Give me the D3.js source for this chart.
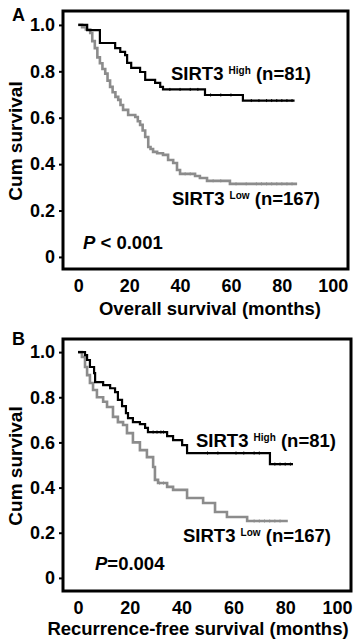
<!DOCTYPE html>
<html>
<head>
<meta charset="utf-8">
<script src="https://cdn.jsdelivr.net/npm/d3@7"></script>
<style>
  body { margin: 0; background: #fff; }
  svg { display: block; font-family: "Liberation Sans", Arial, sans-serif; font-weight: bold; }
</style>
</head>
<body>
<div id="chart"></div>
<script>
// ---- data ----
var yTicks = [0, 0.2, 0.4, 0.6, 0.8, 1.0];
var xTicks = [0, 20, 40, 60, 80, 100];

// panel A, overall survival
var highATime = [0, 3.5, 8.5, 14.5, 16.5, 18.4, 19.2, 20.8, 24.3, 26.3, 30.2, 32.2, 33.3, 49.8, 64.7];
var highASurv = [1, 0.978, 0.922, 0.90, 0.884, 0.87, 0.836, 0.815, 0.797, 0.763, 0.75, 0.733, 0.722, 0.698, 0.674];
var highAEnd = 85;
var highACensor = [36, 40, 44, 47, 52, 56, 60, 68, 71, 74, 76, 78, 80, 82, 84];

var lowATime = [0, 1.5, 3, 4.7, 5.5, 6.5, 7.5, 8.5, 9.5, 10.6, 11.5, 12.5, 13.5, 14.6, 15.7, 16.6, 17.6, 19.6, 22.4, 23.4, 24.3, 25.3, 26.3, 27.5, 28.4, 29.4, 31, 33.3, 35.3, 37.3, 38.8, 40, 45.9, 47.8, 50.6, 59.6];
var lowASurv = [1, 0.99, 0.98, 0.965, 0.93, 0.90, 0.86, 0.835, 0.81, 0.79, 0.76, 0.733, 0.71, 0.69, 0.677, 0.655, 0.634, 0.612, 0.603, 0.585, 0.569, 0.545, 0.517, 0.474, 0.465, 0.453, 0.447, 0.44, 0.418, 0.405, 0.375, 0.358, 0.349, 0.34, 0.328, 0.315];
var lowAEnd = 86;
var lowACensor = [42, 44, 53, 56, 62, 66, 70, 72, 74, 76, 78, 80, 82, 84];

// panel B, recurrence-free survival
var highBTime = [0, 2.7, 3.5, 4.6, 6.2, 6.6, 9.7, 12.4, 14.3, 15.4, 17, 18.5, 19.3, 21.2, 23.9, 25.9, 27, 34.4, 36.7, 40.2, 42.1, 74.1];
var highBSurv = [1, 0.987, 0.965, 0.934, 0.907, 0.867, 0.854, 0.84, 0.823, 0.788, 0.761, 0.73, 0.708, 0.69, 0.681, 0.664, 0.646, 0.628, 0.61, 0.588, 0.553, 0.504];
var highBEnd = 83;
var highBCensor = [29, 30.5, 32, 33, 50, 54, 61, 64, 68, 70, 76, 78, 80, 82];

var lowBTime = [0, 1.5, 2.7, 3.5, 4.6, 5.8, 7.3, 9.7, 11.2, 13.5, 15.4, 17.4, 18.9, 21.2, 23.9, 26.6, 29, 29.7, 30.9, 34.4, 36.7, 42.1, 48.3, 52.9, 57.5, 65.3];
var lowBSurv = [1, 0.978, 0.934, 0.898, 0.863, 0.832, 0.80, 0.78, 0.757, 0.713, 0.69, 0.677, 0.641, 0.60, 0.566, 0.535, 0.491, 0.434, 0.42, 0.403, 0.39, 0.354, 0.332, 0.292, 0.27, 0.252];
var lowBEnd = 81;
var lowBCensor = [31.5, 33, 68, 70, 72, 74, 76, 78];

var W = 357, H = 640;
var svg = d3.select("#chart").append("svg")
    .attr("width", W)
    .attr("height", H);

function toPoints(t, s, end) {
    var pts = t.map(function (d, i) { return [d, s[i]]; });
    pts.push([end, s[s.length - 1]]);
    return pts;
}

function survAt(t, s, time) {
    var v = s[0];
    for (var i = 0; i < t.length; i++) {
        if (t[i] <= time) v = s[i];
    }
    return v;
}

function drawPanel(p) {
    var x = d3.scaleLinear().domain(p.xDom).range([p.left, p.right]);
    var y = d3.scaleLinear().domain(p.yDom).range([p.bottom, p.top]);
    var g = svg.append("g");

    var line = d3.line()
        .x(function (d) { return x(d[0]); })
        .y(function (d) { return y(d[1]); })
        .curve(d3.curveStepAfter);

    p.curves.forEach(function (c) {
        g.append("path")
            .datum(toPoints(c.t, c.s, c.end))
            .attr("d", line)
            .attr("fill", "none")
            .attr("stroke", c.color)
            .attr("stroke-width", c.width);
        g.selectAll(null)
            .data(c.censor)
            .enter().append("line")
            .attr("x1", function (d) { return x(d); })
            .attr("x2", function (d) { return x(d); })
            .attr("y1", function (d) { return y(survAt(c.t, c.s, d)) - 1.5; })
            .attr("y2", function (d) { return y(survAt(c.t, c.s, d)) + 1.5; })
            .attr("stroke", c.color)
            .attr("stroke-width", 1);
    });

    // y axis
    var yAxis = d3.axisLeft(y)
        .tickValues(yTicks)
        .tickSize(4)
        .tickPadding(4)
        .tickFormat(function (d) { return d === 0 ? "0" : d.toFixed(1); });
    var ya = g.append("g")
        .attr("transform", "translate(" + p.left + ",0)")
        .call(yAxis);
    ya.select(".domain").remove();
    ya.selectAll("line").attr("stroke", "#000").attr("stroke-width", 2);
    ya.selectAll("text")
        .attr("font-size", 18)
        .attr("font-family", "Liberation Sans, Arial, sans-serif")
        .attr("font-weight", "bold")
        .attr("fill", "#000");

    // x axis
    var xAxis = d3.axisBottom(x)
        .tickValues(xTicks)
        .tickSize(0)
        .tickPadding(p.xPad);
    var xa = g.append("g")
        .attr("transform", "translate(0," + p.bottom + ")")
        .call(xAxis);
    xa.select(".domain").remove();
    xa.selectAll("text")
        .attr("font-size", 18)
        .attr("font-family", "Liberation Sans, Arial, sans-serif")
        .attr("font-weight", "bold")
        .attr("fill", "#000");

    // frame
    g.append("rect")
        .attr("x", p.left)
        .attr("y", p.top)
        .attr("width", p.right - p.left)
        .attr("height", p.bottom - p.top)
        .attr("fill", "none")
        .attr("stroke", "#000")
        .attr("stroke-width", 3);

    // titles
    g.append("text")
        .attr("x", p.xTitleX)
        .attr("y", p.xTitleY)
        .attr("text-anchor", "middle")
        .attr("font-size", 18.5)
        .text(p.xTitle);
    g.append("text")
        .attr("transform", "translate(22," + p.yTitleY + ") rotate(-90)")
        .attr("text-anchor", "middle")
        .attr("font-size", 19)
        .text("Cum survival");
    g.append("text")
        .attr("x", p.letterX)
        .attr("y", p.letterY)
        .attr("font-size", 18)
        .text(p.letter);

    // group labels
    p.labels.forEach(function (l) {
        var t = g.append("text")
            .attr("x", l.x)
            .attr("y", l.y)
            .attr("font-size", 18.5);
        t.append("tspan").text("SIRT3 ");
        t.append("tspan").attr("font-size", 10).attr("dy", -6).text(l.sup);
        t.append("tspan").attr("dy", 6).text(" " + l.n);
    });

    // p value
    var pt = g.append("text")
        .attr("x", p.pX)
        .attr("y", p.pY)
        .attr("font-size", 18.5);
    pt.append("tspan").attr("font-style", "italic").text("P");
    pt.append("tspan").text(p.pText);
}

drawPanel({
    letter: "A", letterX: 12, letterY: 21,
    left: 63, right: 348, top: 11, bottom: 269,
    xDom: [-6, 106], yDom: [-0.052, 1.06], xPad: 10,
    xTitle: "Overall survival (months)", xTitleX: 210, xTitleY: 315,
    yTitleY: 141,
    curves: [
        { t: lowATime, s: lowASurv, end: lowAEnd, censor: lowACensor, color: "#8c8c8c", width: 2.6 },
        { t: highATime, s: highASurv, end: highAEnd, censor: highACensor, color: "#000", width: 2.2 }
    ],
    labels: [
        { x: 171, y: 80, sup: "High", n: "(n=81)" },
        { x: 172, y: 205, sup: "Low", n: "(n=167)" }
    ],
    pX: 83, pY: 249, pText: " < 0.001"
});

drawPanel({
    letter: "B", letterX: 12, letterY: 345,
    left: 63, right: 351, top: 339, bottom: 591,
    xDom: [-5.8, 105.4], yDom: [-0.058, 1.058], xPad: 10,
    xTitle: "Recurrence-free survival (months)", xTitleX: 198, xTitleY: 635,
    yTitleY: 466,
    curves: [
        { t: lowBTime, s: lowBSurv, end: lowBEnd, censor: lowBCensor, color: "#8c8c8c", width: 2.6 },
        { t: highBTime, s: highBSurv, end: highBEnd, censor: highBCensor, color: "#000", width: 2.2 }
    ],
    labels: [
        { x: 196, y: 447, sup: "High", n: "(n=81)" },
        { x: 183, y: 542, sup: "Low", n: "(n=167)" }
    ],
    pX: 95, pY: 570, pText: "=0.004"
});
</script>
</body>
</html>
